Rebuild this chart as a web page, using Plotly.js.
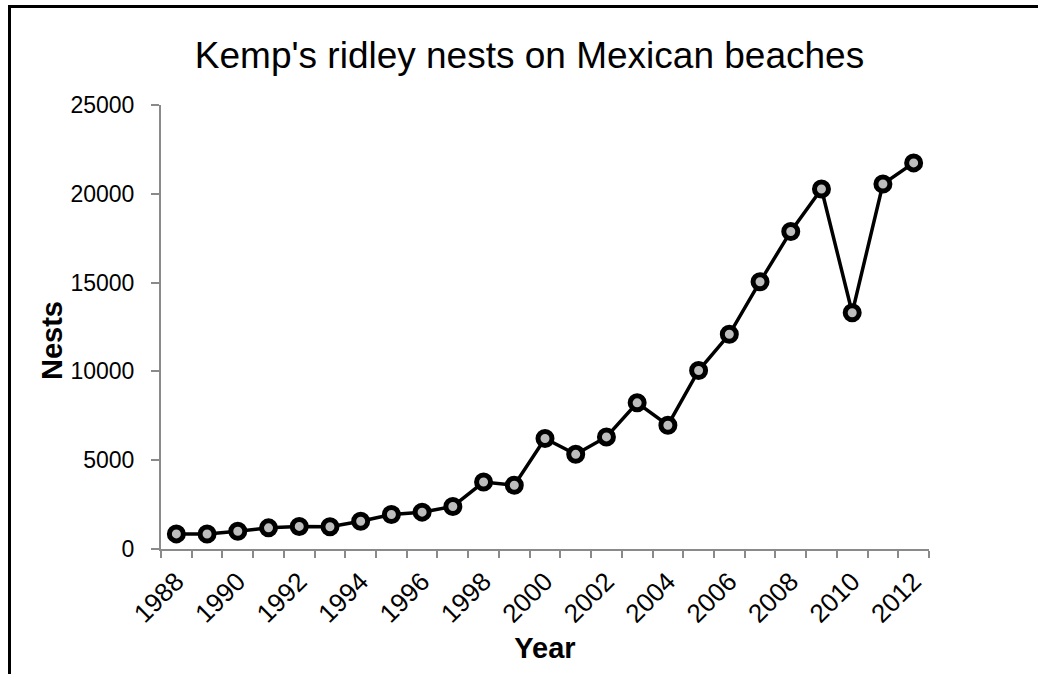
<!DOCTYPE html>
<html>
<head>
<meta charset="utf-8">
<script src="https://cdn.plot.ly/plotly-3.0.1.min.js"></script>
<style>
  html, body { margin: 0; padding: 0; background: #fff; }
  #wrap { position: relative; width: 1038px; height: 674px; overflow: hidden; }
  #chart { width: 1038px; height: 674px; }
  #frame { position: absolute; left: 8px; top: 5px; width: 1100px; height: 700px;
           border-left: 3px solid #000; border-top: 3px solid #000; pointer-events: none; }
</style>
</head>
<body>
<div id="wrap">
  <div id="chart"></div>
  <div id="frame"></div>
</div>
<script>
// Data
const years = [1988, 1989, 1990, 1991, 1992, 1993, 1994, 1995, 1996, 1997, 1998, 1999,
               2000, 2001, 2002, 2003, 2004, 2005, 2006, 2007, 2008, 2009, 2010, 2011, 2012];
const nests = [850, 845, 1000, 1190, 1270, 1250, 1565, 1945, 2075, 2395, 3770, 3590,
               6220, 5330, 6310, 8230, 6970, 10050, 12090, 15050, 17880, 20270, 13300, 20550, 21740];
const tickYears = [1988, 1990, 1992, 1994, 1996, 1998, 2000, 2002, 2004, 2006, 2008, 2010, 2012];
const tickText = tickYears.map(String);
const yTicks = [0, 5000, 10000, 15000, 20000, 25000];

const font = "Liberation Sans, Arial, sans-serif";

const trace = {
  x: years,
  y: nests,
  type: 'scatter',
  mode: 'lines+markers',
  line: { color: '#000', width: 3.5 },
  marker: { symbol: 'circle', size: 14, color: '#bdbdbd', line: { color: '#000', width: 5 } },
  hoverinfo: 'x+y'
};

const layout = {
  width: 1038,
  height: 674,
  margin: { l: 161, r: 109, t: 105, b: 125 },
  paper_bgcolor: '#fff',
  plot_bgcolor: '#fff',
  showlegend: false,
  title: {
    text: "Kemp's ridley nests on Mexican beaches",
    font: { family: font, size: 37, color: '#000' },
    x: 529.5 / 1038, xref: 'container', xanchor: 'center',
    y: 1 - 55 / 674, yref: 'container', yanchor: 'middle'
  },
  xaxis: {
    type: 'linear',
    range: [1987.5, 2012.5],
    tickmode: 'array',
    tickvals: tickYears,
    ticktext: tickText,
    tickangle: -45,
    ticks: '',
    ticklabelstandoff: 5,
    tickfont: { family: font, size: 26, color: '#000' },
    showgrid: false,
    zeroline: false,
    showline: true,
    linecolor: '#8a8a8a',
    linewidth: 2,
    minor: { tick0: 1987.5, dtick: 1, ticks: 'outside', ticklen: 7, tickcolor: '#8a8a8a', tickwidth: 2, showgrid: false },
    title: { text: 'Year', font: { family: font, size: 29, color: '#000', weight: 'bold' }, standoff: 10 }
  },
  yaxis: {
    range: [0, 25000],
    tickmode: 'array',
    tickvals: yTicks,
    ticktext: yTicks.map(String),
    ticks: 'outside',
    ticklen: 8,
    tickwidth: 2,
    tickcolor: '#8a8a8a',
    ticklabelstandoff: 12,
    tickfont: { family: font, size: 23, color: '#000' },
    showgrid: false,
    zeroline: false,
    showline: true,
    linecolor: '#8a8a8a',
    linewidth: 2
  },
  annotations: [{
    text: 'Nests',
    font: { family: font, size: 29, color: '#000', weight: 'bold' },
    textangle: -90,
    showarrow: false,
    xref: 'paper', yref: 'paper',
    x: (52 - 161) / 768, y: (548.5 - 341) / 443,
    xanchor: 'center', yanchor: 'middle'
  }]
};

Plotly.newPlot('chart', [trace], layout, { displayModeBar: false, staticPlot: true });
</script>
</body>
</html>
